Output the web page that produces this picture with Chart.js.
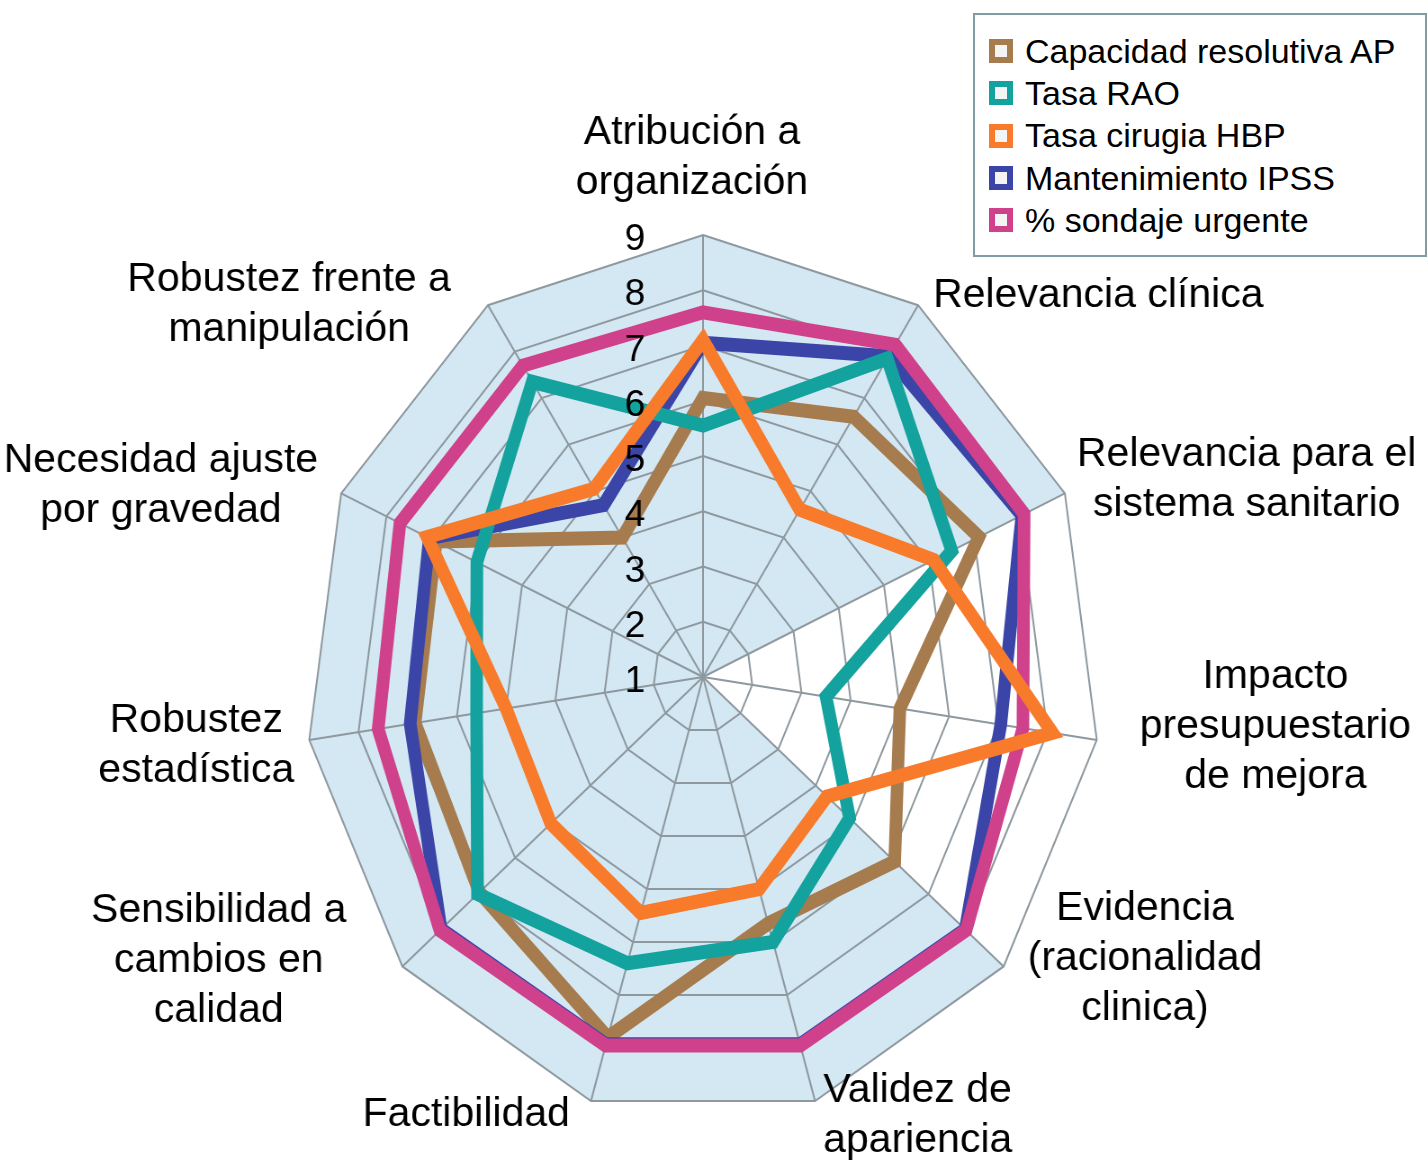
<!DOCTYPE html>
<html lang="es">
<head>
  <meta charset="UTF-8" />
  <title>Radar de indicadores</title>
  <script src="https://cdn.jsdelivr.net/npm/chart.js"></script>
  <style>
    body {
      margin: 0;
      width: 1428px;
      height: 1165px;
      overflow: hidden;
      position: relative;
      background: #fff;
      font-family: 'Liberation Sans', Arial, Helvetica, sans-serif;
    }

    /* the original radar is squeezed horizontally, so the canvas is too.
       canvas x = 790 lands on page x = 703 */
    #wrap {
      position: absolute;
      left: -87px;
      top: 0;
      width: 1600px;
      height: 1165px;
      transform: scaleX(0.9);
      transform-origin: 790px 0;
    }

    #legend {
      position: absolute;
      left: 973px;
      top: 13px;
      width: 454px;
      height: 244px;
      box-sizing: border-box;
      border: 2px solid #7f9ca6;
      background: #fff;
      padding: 15px 0 0 14px;
    }

    .item {
      display: flex;
      align-items: center;
      height: 42.3px;
      font-size: 34px;
      color: #000;
      white-space: nowrap;
    }

    .item i {
      display: inline-block;
      width: 24px;
      height: 24px;
      box-sizing: border-box;
      border: 6px solid;
      background: #f4f4f4;
      margin-right: 12px;
    }
  </style>
</head>
<body>

  <div id="wrap"><canvas id="radar"></canvas></div>
  <div id="legend"></div>

  <script>
    // axis labels, clockwise from the top
    const categories = [
      ['Atribución a', 'organización'],
      ['Relevancia clínica'],
      ['Relevancia para el', 'sistema sanitario'],
      ['Impacto', 'presupuestario', 'de mejora'],
      ['Evidencia', '(racionalidad', 'clinica)'],
      ['Validez de', 'apariencia'],
      ['Factibilidad'],
      ['Sensibilidad a', 'cambios en', 'calidad'],
      ['Robustez', 'estadística'],
      ['Necesidad ajuste', 'por gravedad'],
      ['Robustez frente a', 'manipulación']
    ];

    const capacidadAP = [6.05, 6.6, 7.1, 5.0, 6.1, 5.65, 7.8, 6.95, 6.85, 6.9, 4.0];
    const tasaRAO     = [5.55, 7.85, 6.5, 3.5, 4.9, 6.0, 6.4, 7.0, 5.6, 6.0, 7.35];
    const cirugiaHBP  = [7.1, 4.6, 6.1, 8.1, 4.3, 5.0, 5.45, 5.05, 5.0, 7.1, 5.05];
    const mantIPSS    = [7.05, 7.9, 8.05, 7.05, 7.98, 7.93, 7.93, 7.97, 6.95, 7.05, 4.7];
    const sondaje     = [7.6, 8.15, 8.1, 7.5, 8.0, 7.95, 7.95, 8.0, 7.6, 7.7, 7.7];

    // light blue panel behind the web (it leaves the Impacto wedge white)
    const panelLevels = [9, 9, 9, 1, 9, 9, 9, 9, 9, 9, 9];

    const tickValues = [1, 2, 3, 4, 5, 6, 7, 8, 9];

    const SQUISH = 0.9;
    const FONT = '"Liberation Sans", Arial, Helvetica, sans-serif';
    const LINE_H = 50;

    // where each axis label sits against its outer vertex (screen px)
    const labelPlace = [
      ['center', -11, -77],
      ['left', 15, -9],
      ['left', 12, -14],
      ['left', 43, -13],
      ['left', 24, -8],
      ['left', 8, 15],
      ['right', -21, 14],
      ['right', -56, -6],
      ['right', -15, 6],
      ['right', -23, -8],
      ['right', -37, 0]
    ];

    // text drawn inside the squeezed canvas is stretched back to normal
    function drawText(ctx, txt, x, y) {
      ctx.save();
      ctx.translate(x, y);
      ctx.scale(1 / SQUISH, 1);
      ctx.fillText(txt, 0, 0);
      ctx.restore();
    }

    const radarText = {
      id: 'radarText',
      beforeDraw(chart) {
        const r = chart.scales.r;
        const ctx = chart.ctx;
        ctx.save();
        ctx.beginPath();
        panelLevels.forEach((v, i) => {
          const p = r.getPointPositionForValue(i, v);
          if (i === 0) ctx.moveTo(p.x, p.y);
          else ctx.lineTo(p.x, p.y);
        });
        ctx.closePath();
        ctx.fillStyle = '#d3e8f3';
        ctx.fill();
        ctx.restore();
      },
      afterDraw(chart) {
        const r = chart.scales.r;
        const ctx = chart.ctx;
        ctx.save();
        ctx.fillStyle = '#000';
        ctx.textAlign = 'center';
        ctx.textBaseline = 'middle';

        // scale numbers, left of the vertical axis
        ctx.font = '37px ' + FONT;
        tickValues.forEach(v => {
          const p = r.getPointPositionForValue(0, v);
          drawText(ctx, String(v), r.xCenter - 68 / SQUISH, p.y + 5);
        });

        // axis labels
        ctx.font = '41px ' + FONT;
        chart.data.labels.forEach((lines, i) => {
          const v = r.getPointPositionForValue(i, r.max);
          const [anchor, dx, dy] = labelPlace[i];
          const w = Math.max(...lines.map(l => ctx.measureText(l).width));
          let cx = v.x + dx / SQUISH;
          if (anchor === 'left') cx += w / 2 / SQUISH;
          if (anchor === 'right') cx -= w / 2 / SQUISH;
          const top = v.y + dy - (lines.length - 1) * LINE_H / 2;
          lines.forEach((l, k) => drawText(ctx, l, cx, top + k * LINE_H));
        });
        ctx.restore();
      }
    };

    function series(label, data, color, order) {
      return {
        label,
        data,
        borderColor: color,
        backgroundColor: color,
        borderWidth: 14,
        pointRadius: 0,
        fill: false,
        order
      };
    }

    const chart = new Chart(document.getElementById('radar'), {
      type: 'radar',
      data: {
        labels: categories,
        datasets: [
          series('Capacidad resolutiva AP', capacidadAP, '#a67b4e', 5),
          series('Tasa RAO', tasaRAO, '#14a29e', 3),
          series('Tasa cirugia HBP', cirugiaHBP, '#f77b2b', 1),
          series('Mantenimiento IPSS', mantIPSS, '#3b45a8', 4),
          series('% sondaje urgente', sondaje, '#d0418b', 2)
        ]
      },
      options: {
        responsive: true,
        maintainAspectRatio: false,
        animation: false,
        layout: { padding: { left: 348, right: 368, top: 235, bottom: 46 } },
        plugins: {
          legend: { display: false },
          tooltip: { enabled: false }
        },
        scales: {
          r: {
            min: 1,
            max: 9,
            ticks: { stepSize: 1, display: false },
            grid: { color: '#8e989f', lineWidth: 2 },
            angleLines: { color: '#8e989f', lineWidth: 2 },
            pointLabels: { display: false }
          }
        }
      },
      plugins: [radarText]
    });

    // legend box built from the datasets
    const legend = document.getElementById('legend');
    chart.data.datasets.forEach(ds => {
      const row = document.createElement('div');
      row.className = 'item';
      row.innerHTML = `<i style="border-color:${ds.borderColor}"></i><span>${ds.label}</span>`;
      legend.appendChild(row);
    });
  </script>

</body>
</html>
